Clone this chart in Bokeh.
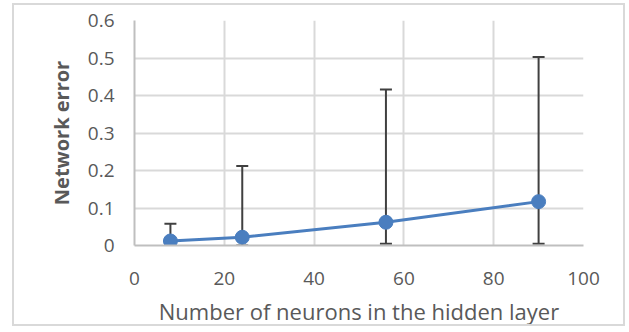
from bokeh.plotting import figure
from bokeh.models import ColumnDataSource, Whisker, TeeHead, Range1d, FixedTicker
from bokeh.embed import file_html
from bokeh.resources import INLINE

# data
neurons = [8, 24, 56, 90]
error = [0.012, 0.022, 0.062, 0.117]
err_low = [0.0, 0.0, 0.005, 0.005]
err_high = [0.058, 0.212, 0.416, 0.503]
x_ticks = [0, 20, 40, 60, 80, 100]
y_ticks = [0, 0.1, 0.2, 0.3, 0.4, 0.5, 0.6]

FONT = "Open Sans"
TXT = "#595959"

p = figure(width=613, height=323, output_backend="svg", toolbar_location=None,
           x_range=Range1d(0, 100), y_range=Range1d(0, 0.6),
           min_border_left=120, min_border_right=44, min_border_top=15, min_border_bottom=81)
p.background_fill_color = "white"
p.border_fill_color = "white"
p.outline_line_color = None
p.styles = {"border": "2px solid #d9d9d9", "margin-left": "12px", "margin-top": "3px"}

src = ColumnDataSource(dict(x=neurons, y=error, lo=err_low, hi=err_high))

w = Whisker(source=src, base="x", upper="hi", lower="lo", dimension="height",
            line_color="#404040", line_width=2,
            upper_head=TeeHead(size=12, line_color="#404040", line_width=2),
            lower_head=TeeHead(size=12, line_color="#404040", line_width=2))
p.add_layout(w)

p.line("x", "y", source=src, line_color="#4a7ebf", line_width=3)
p.scatter("x", "y", source=src, size=14, fill_color="#4a7ebf", line_color="#4a7ebf")

for ax in (p.xaxis[0], p.yaxis[0]):
    ax.major_tick_line_color = None
    ax.minor_tick_line_color = None
    ax.major_tick_out = 0
    ax.major_tick_in = 0
    ax.axis_line_color = "#bfbfbf"
    ax.axis_line_width = 2
    ax.major_label_text_font = FONT
    ax.major_label_text_font_size = "19px"
    ax.major_label_text_color = TXT
    ax.major_label_text_line_height = 1.0
    ax.axis_label_text_font = FONT
    ax.axis_label_text_color = TXT
    ax.axis_label_text_font_style = "normal"

p.xaxis.ticker = FixedTicker(ticks=x_ticks)
p.yaxis.ticker = FixedTicker(ticks=y_ticks)
p.yaxis.major_label_overrides = {0: "0"}
p.xaxis.axis_label = "Number of neurons in the hidden layer"
p.yaxis.axis_label = "Network error"
p.xaxis.axis_label_text_font_size = "22px"
p.yaxis.axis_label_text_font_size = "20px"
p.yaxis.axis_label_text_font_style = "bold"
p.xaxis.major_label_standoff = 26
p.yaxis.major_label_standoff = 20
p.xaxis.axis_label_standoff = 8
p.yaxis.axis_label_standoff = 10

p.xgrid.ticker = FixedTicker(ticks=x_ticks)
p.ygrid.ticker = FixedTicker(ticks=y_ticks)
p.grid.grid_line_color = "#d9d9d9"
p.grid.grid_line_width = 2

open("out.html", "w").write(file_html(p, INLINE))
